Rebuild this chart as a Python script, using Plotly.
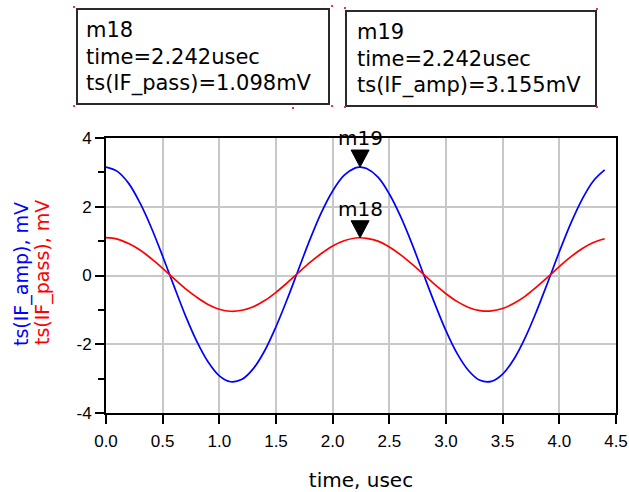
import plotly.graph_objects as go

# ---- data ----
time_us = [0.0, 0.1, 0.2, 0.3, 0.4, 0.5, 0.6, 0.7, 0.8, 0.9, 1.0, 1.1, 1.2, 1.3, 1.4,
           1.5, 1.6, 1.7, 1.8, 1.9, 2.0, 2.1, 2.2, 2.242, 2.3, 2.4, 2.5, 2.6, 2.7, 2.8,
           2.9, 3.0, 3.1, 3.2, 3.3, 3.4, 3.5, 3.6, 3.7, 3.8, 3.9, 4.0, 4.1, 4.2, 4.3, 4.4]
if_amp = [3.155, 3.03, 2.68, 2.11, 1.39, 0.56, -0.31, -1.16, -1.91, -2.51, -2.92, -3.09,
          -3.02, -2.71, -2.19, -1.49, -0.68, 0.19, 1.05, 1.83, 2.46, 2.91, 3.13, 3.155,
          3.11, 2.86, 2.37, 1.71, 0.92, 0.05, -0.81, -1.61, -2.28, -2.77, -3.05, -3.08,
          -2.87, -2.43, -1.80, -1.03, -0.18, 0.69, 1.51, 2.21, 2.75, 3.07]
if_pass = [1.10, 1.06, 0.93, 0.74, 0.49, 0.21, -0.09, -0.38, -0.63, -0.84, -0.98, -1.04,
           -1.01, -0.91, -0.73, -0.49, -0.21, 0.09, 0.38, 0.64, 0.86, 1.01, 1.09, 1.098,
           1.08, 1.00, 0.83, 0.60, 0.33, 0.04, -0.26, -0.53, -0.76, -0.93, -1.02, -1.03,
           -0.96, -0.81, -0.60, -0.33, -0.04, 0.26, 0.54, 0.78, 0.96, 1.07]

markers = ["m18", "m19"]
marker_time = [2.242, 2.242]
marker_vals = [1.098, 3.155]
marker_labels = ["ts(IF_pass)=1.098mV", "ts(IF_amp)=3.155mV"]

x_ticks = [0.0, 0.5, 1.0, 1.5, 2.0, 2.5, 3.0, 3.5, 4.0, 4.5]
y_ticks = [-4, -2, 0, 2, 4]

# ---- layout geometry (pixels) ----
W, H = 629, 492
L, R, T, B = 106, 616, 138, 413


def px(x):
    return (x - L) / (R - L)


def py(y):
    return (B - y) / (B - T)


fig = go.Figure()
fig.add_trace(go.Scatter(x=time_us, y=if_amp, mode="lines",
                         line=dict(color="#0000ff", width=1.7, shape="spline"),
                         showlegend=False, hoverinfo="skip"))
fig.add_trace(go.Scatter(x=time_us, y=if_pass, mode="lines",
                         line=dict(color="#ff0000", width=1.7, shape="spline"),
                         showlegend=False, hoverinfo="skip"))

shapes = []
annotations = []

# marker triangles and labels
for name, t, v in zip(markers, marker_time, marker_vals):
    shapes.append(dict(type="path", xref="x", yref="y", xsizemode="pixel", ysizemode="pixel",
                       xanchor=t, yanchor=v, path="M 0 0 L -9 17 L 9 17 Z",
                       fillcolor="black", line=dict(color="black", width=1)))
    annotations.append(dict(x=t, y=v, xref="x", yref="y", text=name, showarrow=False,
                            xanchor="center", yanchor="middle", yshift=29,
                            font=dict(family="DejaVu Sans", size=20, color="black")))

# marker readout boxes
boxes = [
    (77, 9, 329, 104, 84, [30, 57, 83]),
    (346, 11, 596, 106, 355, [32, 59, 85]),
]
for (x0, y0, x1, y1, tx, ys), name, t, lab in zip(boxes, markers, marker_time, marker_labels):
    shapes.append(dict(type="rect", xref="paper", yref="paper",
                       x0=px(x0), x1=px(x1), y0=py(y1), y1=py(y0),
                       line=dict(color="#2a2a2a", width=2), fillcolor="white", layer="above"))
    lines = [name, "time=%.3fusec" % t, lab]
    for yy, txt in zip(ys, lines):
        annotations.append(dict(x=px(tx), y=py(yy), xref="paper", yref="paper", text=txt,
                                showarrow=False, xanchor="left", yanchor="middle",
                                font=dict(family="DejaVu Sans", size=21, color="black")))

# small red selection handles
dots = [(74, 7), (74, 106), (332, 6), (332, 106), (345, 8), (345, 107), (597, 9), (597, 107), (293, 108)]
for dx, dy in dots:
    shapes.append(dict(type="rect", xref="paper", yref="paper",
                       x0=px(dx - 1), x1=px(dx + 1), y0=py(dy + 1), y1=py(dy - 1),
                       line=dict(width=0), fillcolor="#ff3030"))

# y axis titles
annotations.append(dict(x=px(21), y=py(274), xref="paper", yref="paper",
                        text="ts(IF_amp), mV", textangle=-90, showarrow=False,
                        xanchor="center", yanchor="middle",
                        font=dict(family="DejaVu Sans", size=19, color="#0000ff")))
annotations.append(dict(x=px(42), y=py(273), xref="paper", yref="paper",
                        text="ts(IF_pass), mV", textangle=-90, showarrow=False,
                        xanchor="center", yanchor="middle",
                        font=dict(family="DejaVu Sans", size=19, color="#ff0000")))

fig.update_layout(
    width=W, height=H,
    margin=dict(l=L, r=W - R, t=T, b=H - B),
    paper_bgcolor="white", plot_bgcolor="white",
    shapes=shapes, annotations=annotations,
    xaxis=dict(range=[0, 4.5], tickvals=x_ticks, ticktext=["%.1f" % v for v in x_ticks],
               automargin=False,
               showline=True, linecolor="black", linewidth=2, mirror=True,
               ticks="outside", ticklen=9, tickwidth=2, tickcolor="black",
               ticklabelstandoff=3,
               showgrid=True, gridcolor="#c8c8c8", gridwidth=2, zeroline=False,
               tickfont=dict(family="Liberation Sans", size=17, color="black"),
               title=dict(text="time, usec", standoff=30,
                          font=dict(family="DejaVu Sans", size=20, color="black"))),
    yaxis=dict(range=[-4, 4], tickvals=y_ticks, ticktext=[str(v) for v in y_ticks],
               automargin=False,
               showline=True, linecolor="black", linewidth=2, mirror=True,
               ticks="outside", ticklen=9, tickwidth=2, tickcolor="black",
               minor=dict(dtick=1, ticks="outside", ticklen=6, tickwidth=2, tickcolor="black",
                          showgrid=False),
               showgrid=True, gridcolor="#c8c8c8", gridwidth=2, zeroline=False,
               tickfont=dict(family="Liberation Sans", size=17, color="black")),
)

fig.write_html("out.html")
